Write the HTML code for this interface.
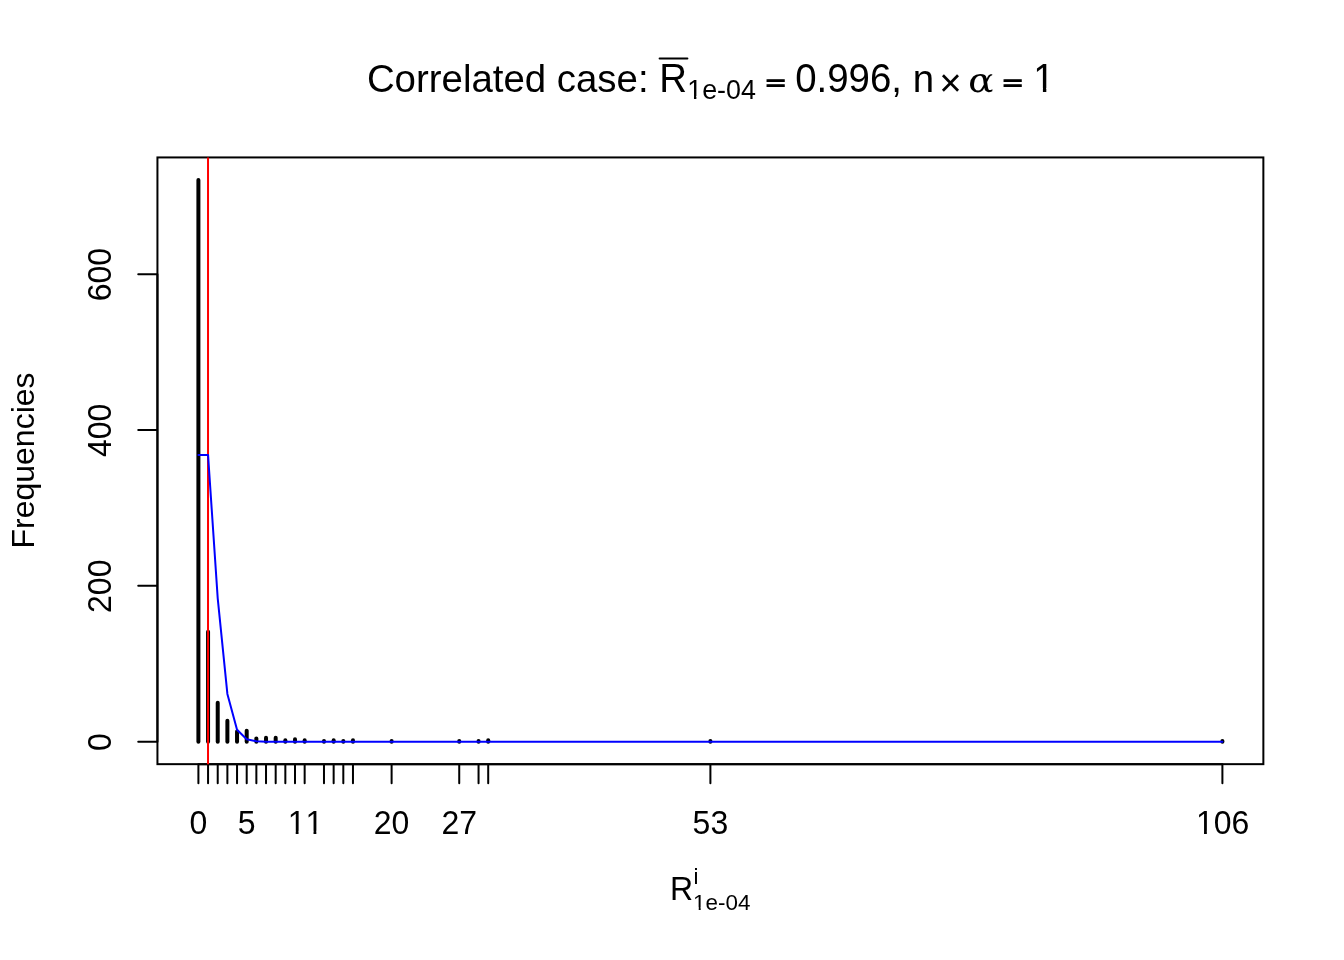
<!DOCTYPE html>
<html lang="en"><head><meta charset="utf-8"><title>Correlated case</title>
<style>
html,body{margin:0;padding:0;background:#fff;overflow:hidden}
svg{display:block}
text{font-family:"Liberation Sans",sans-serif;fill:#000;font-kerning:none;font-variant-ligatures:none}
.ser{font-family:"DejaVu Serif","Liberation Serif",serif;font-style:italic}
.ax{stroke:#000;stroke-width:2;stroke-linecap:round;fill:none}
.w{fill:#fff;stroke:none}
</style></head><body>
<svg width="1344" height="960" viewBox="0 0 1344 960">
<rect width="1344" height="960" fill="#fff"/>
<g stroke="#000" stroke-width="4" stroke-linecap="round" fill="none">
<line x1="198.4" y1="741.69" x2="198.4" y2="179.91"/>
<line x1="208.06" y1="741.69" x2="208.06" y2="631.83"/>
<line x1="217.72" y1="741.69" x2="217.72" y2="702.73"/>
<line x1="227.38" y1="741.69" x2="227.38" y2="720.65"/>
<line x1="237.04" y1="741.69" x2="237.04" y2="731.56"/>
<line x1="246.7" y1="741.69" x2="246.7" y2="730.78"/>
<line x1="256.36" y1="741.69" x2="256.36" y2="738.57"/>
<line x1="266.02" y1="741.69" x2="266.02" y2="737.79"/>
<line x1="275.68" y1="741.69" x2="275.68" y2="737.79"/>
<line x1="285.34" y1="741.69" x2="285.34" y2="740.13"/>
<line x1="295" y1="741.69" x2="295" y2="739.35"/>
<line x1="304.66" y1="741.69" x2="304.66" y2="740.13"/>
<line x1="323.98" y1="741.69" x2="323.98" y2="740.91"/>
<line x1="333.65" y1="741.69" x2="333.65" y2="740.13"/>
<line x1="343.31" y1="741.69" x2="343.31" y2="740.91"/>
<line x1="352.97" y1="741.69" x2="352.97" y2="740.13"/>
<line x1="391.61" y1="741.69" x2="391.61" y2="740.91"/>
<line x1="459.23" y1="741.69" x2="459.23" y2="740.91"/>
<line x1="478.55" y1="741.69" x2="478.55" y2="740.91"/>
<line x1="488.21" y1="741.69" x2="488.21" y2="740.13"/>
<line x1="710.4" y1="741.69" x2="710.4" y2="740.91"/>
<line x1="1222.4" y1="741.69" x2="1222.4" y2="740.91"/>
</g>
<rect class="ax" x="157.44" y="157.44" width="1105.92" height="606.72"/>
<path class="ax" d="M198.4 764.16H1222.4M198.4 764.16v19.2M208.06 764.16v19.2M217.72 764.16v19.2M227.38 764.16v19.2M237.04 764.16v19.2M246.7 764.16v19.2M256.36 764.16v19.2M266.02 764.16v19.2M275.68 764.16v19.2M285.34 764.16v19.2M295 764.16v19.2M304.66 764.16v19.2M323.98 764.16v19.2M333.65 764.16v19.2M343.31 764.16v19.2M352.97 764.16v19.2M391.61 764.16v19.2M459.23 764.16v19.2M478.55 764.16v19.2M488.21 764.16v19.2M710.4 764.16v19.2M1222.4 764.16v19.2"/>
<path class="ax" d="M157.44 741.69V274.19M157.44 741.69h-19.2M157.44 585.86h-19.2M157.44 430.02h-19.2M157.44 274.19h-19.2"/>
<line x1="208.02" y1="157.44" x2="208.02" y2="764.16" stroke="#f00" stroke-width="2"/>
<polyline points="198.4,455.05 208.06,455.05 217.72,598.37 227.38,693.92 237.04,729.75 246.7,739.3 256.36,741.29 266.02,741.63 275.68,741.68 285.34,741.69 295,741.69 304.66,741.69 323.98,741.69 333.65,741.69 343.31,741.69 352.97,741.69 391.61,741.69 459.23,741.69 478.55,741.69 488.21,741.69 710.4,741.69 1222.4,741.69" fill="none" stroke="#00f" stroke-width="2" stroke-linejoin="round" stroke-linecap="round"/>
<g id="xticks">
<text transform="translate(189.5 834) scale(1 1.04)" font-size="32">0</text>
<text transform="translate(237.8 834) scale(1 1.04)" font-size="32">5</text>
<text transform="translate(287.67 834) scale(1 1.04)" font-size="32">11</text>
<rect class="w" x="289.3" y="830.81" width="6.41" height="3.89"/><rect class="w" x="298.54" y="830.81" width="6.16" height="3.89"/>
<rect class="w" x="307.1" y="830.81" width="6.41" height="3.89"/><rect class="w" x="316.34" y="830.81" width="6.16" height="3.89"/>
<text transform="translate(373.81 834) scale(1 1.04)" font-size="32">20</text>
<text transform="translate(441.43 834) scale(1 1.04)" font-size="32">27</text>
<text transform="translate(692.6 834) scale(1 1.04)" font-size="32">53</text>
<text transform="translate(1195.97 834) scale(1 1.04)" font-size="32">106</text>
<rect class="w" x="1197.61" y="830.81" width="6.41" height="3.89"/><rect class="w" x="1206.85" y="830.81" width="6.16" height="3.89"/>
</g>
<g id="yticks" font-size="32" text-anchor="middle">
<text transform="translate(111.3 742.09) rotate(-90) scale(1 1.04)">0</text>
<text transform="translate(111.3 586.26) rotate(-90) scale(1 1.04)">200</text>
<text transform="translate(111.3 430.42) rotate(-90) scale(1 1.04)">400</text>
<text transform="translate(111.3 274.59) rotate(-90) scale(1 1.04)">600</text>
<text transform="translate(34.4 460.5) rotate(-90)">Frequencies</text>
</g>
<g id="title" font-size="38.4">
<text x="366.9" y="91.8">Correlated case:</text>
<text transform="translate(659.31 91.8) scale(1 1.04)" font-size="38.4">R</text>
<line x1="659.6" y1="58.56" x2="687.4" y2="58.56" stroke="#000" stroke-width="2" stroke-linecap="round"/>
<text x="687.22" y="98.75" font-size="26.88">1e-04</text>
<rect class="w" x="688.47" y="96.04" width="5.51" height="3.41"/><rect class="w" x="696.36" y="96.04" width="5.3" height="3.41"/>
<text transform="translate(765.9 89.58) scale(0.864 0.52)" stroke="#000" stroke-width="2.5" stroke-linejoin="miter">=</text>
<text transform="translate(795.2 91.8) scale(1 1.04)" font-size="38.4">0.996,</text>
<text x="912.63" y="91.8">n</text>
<text x="939.2" y="95.65">×</text>
<text class="ser" transform="translate(969.25 92.05) scale(1 0.885) skewX(6)">α</text>
<text transform="translate(1002.9 89.58) scale(0.864 0.52)" stroke="#000" stroke-width="2.5" stroke-linejoin="miter">=</text>
<text transform="translate(1033.26 91.8) scale(1 1.04)" font-size="38.4">1</text>
<rect class="w" x="1035.38" y="88.12" width="7.53" height="4.38"/><rect class="w" x="1046.31" y="88.12" width="7.23" height="4.38"/>
</g>
<g id="xlab">
<text transform="translate(669.9 899.7) scale(1 1.04)" font-size="32">R</text>
<text x="693.6" y="883.7" font-size="22.4">i</text>
<text x="693.07" y="909.8" font-size="22.4">1e-04</text>
<rect class="w" x="693.98" y="907.43" width="4.73" height="3.07"/><rect class="w" x="700.68" y="907.43" width="4.55" height="3.07"/>
</g>
</svg>
</body></html>
